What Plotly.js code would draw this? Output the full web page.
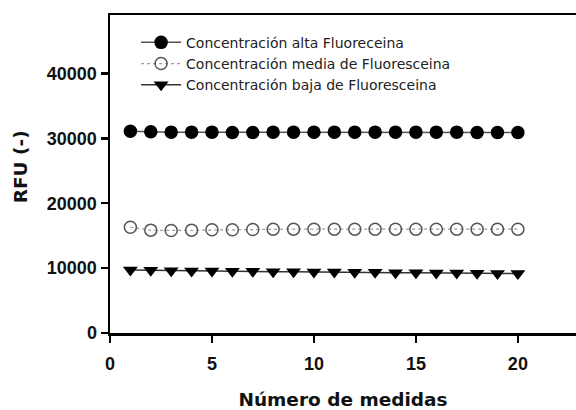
<!DOCTYPE html>
<html>
<head>
<meta charset="utf-8">
<script src="https://cdn.plot.ly/plotly-3.0.1.min.js"></script>
<style>html,body{margin:0;padding:0;background:#fff;}#chart{width:576px;height:410px;}</style>
</head>
<body>
<div id="chart"></div>
<script>
const medidas = [1,2,3,4,5,6,7,8,9,10,11,12,13,14,15,16,17,18,19,20];
const alta = [31100,31000,30950,30950,30950,30900,30900,30950,30950,30950,30950,30950,30950,30950,30950,30950,30950,30900,30900,30900];
const media = [16300,15850,15800,15850,15900,15900,15950,16000,16000,16000,16000,16000,16000,16000,16000,16000,16000,16000,16000,16000];
const baja = [9700,9650,9600,9550,9550,9500,9500,9450,9450,9400,9400,9350,9350,9300,9300,9250,9250,9200,9150,9150];
const nombres = ["Concentración alta Fluoreceina","Concentración media de Fluoresceina","Concentración baja de Fluoresceina"];
const xTicks = [0,5,10,15,20];
const yTicks = [0,10000,20000,30000,40000];
const xTitulo = "Número de medidas";
const yTitulo = "RFU (-)";

const traces = [
  {x: medidas, y: alta, name: nombres[0], mode: "lines+markers",
   line: {color: "#555", width: 1.5},
   marker: {symbol: "circle", size: 13.5, color: "#000", line: {color: "#000", width: 0}}},
  {x: medidas, y: media, name: nombres[1], mode: "lines+markers",
   line: {color: "#999", width: 1.2, dash: "dot"},
   marker: {symbol: "circle-open", size: 12, color: "#555", line: {color: "#555", width: 1.5}}},
  {x: medidas, y: baja, name: nombres[2], mode: "lines+markers",
   line: {color: "#333", width: 1.5},
   marker: {symbol: "triangle-down", size: 13, color: "#000"}}
];

const layout = {
  width: 576, height: 410,
  margin: {l: 110, r: 0, t: 15, b: 76.5},
  paper_bgcolor: "#fff", plot_bgcolor: "#fff",
  font: {family: "Liberation Sans, Arial, sans-serif", color: "#111"},
  showlegend: true,
  legend: {x: 0.056, y: 0.963, xanchor: "left", yanchor: "top", bgcolor: "rgba(0,0,0,0)",
           font: {size: 14, family: "DejaVu Sans, sans-serif", color: "#222"}, tracegroupgap: 0, itemwidth: 40},
  xaxis: {range: [0, 22.85], tickvals: xTicks, ticktext: xTicks.map(String),
          showgrid: false, zeroline: false, showline: true, linecolor: "#000", linewidth: 2.5,
          mirror: true, ticks: "outside", ticklen: 7, tickwidth: 2.5, tickcolor: "#000",
          ticklabelstandoff: 6,
          tickfont: {size: 18, family: "Liberation Sans, Arial, sans-serif", weight: "bold", color: "#111"},
          title: {text: "<b>" + xTitulo + "</b>", font: {size: 18.5, family: "DejaVu Sans, sans-serif", color: "#111"}, standoff: 22}},
  yaxis: {range: [0, 49000], tickvals: yTicks, ticktext: yTicks.map(String),
          showgrid: false, zeroline: false, showline: true, linecolor: "#000", linewidth: 2.5,
          ticks: "outside", ticklen: 7, tickwidth: 2.5, tickcolor: "#000",
          tickfont: {size: 18, family: "Liberation Sans, Arial, sans-serif", weight: "bold", color: "#111"},
          title: {text: ""}},
  annotations: [{text: "<b>" + yTitulo + "</b>", textangle: -90, showarrow: false,
                 xref: "paper", yref: "paper", x: 0, xanchor: "center", xshift: -90,
                 y: 0.521, yanchor: "middle",
                 font: {size: 18.5, family: "DejaVu Sans, sans-serif", color: "#111"}}]
};

Plotly.newPlot("chart", traces, layout, {displayModeBar: false, staticPlot: true});
</script>
</body>
</html>
